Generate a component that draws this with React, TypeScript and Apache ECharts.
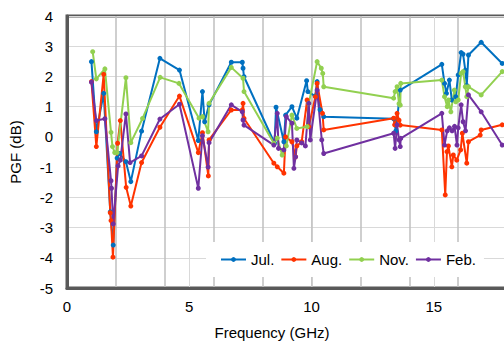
import React, { useEffect, useRef } from "react";
import * as echarts from "echarts";

// Measured PGF (dB) versus frequency (GHz), one campaign per month
const julFreq = [1.0, 1.2, 1.5, 1.77, 1.89, 2.05, 2.15, 2.41, 2.61, 3.05, 3.8, 4.6, 5.37, 5.54, 5.63, 5.81, 6.72, 7.17, 7.2, 7.24, 8.49, 8.55, 8.87, 8.94, 9.2, 9.4, 9.8, 9.85, 10.15, 10.23, 10.35, 10.5, 13.36, 13.45, 13.63, 15.33, 15.44, 15.52, 15.64, 15.74, 15.9, 16.0, 16.12, 16.2, 16.29, 16.35, 16.42, 16.94, 17.8];
const julPgf = [2.49, 0.17, 1.44, -2.48, -3.58, -0.7, -0.55, -0.82, -1.48, 0.19, 2.6, 2.21, -0.12, 1.5, 0.5, 1.06, 2.47, 2.47, 2.27, 1.99, -0.21, 0.98, -0.16, 0.72, 1.0, 0.62, 1.86, 1.5, 1.35, 1.83, 0.9, 0.67, 0.6, 0.2, 1.55, 2.4, 1.77, 1.44, 1.88, 1.22, 1.33, 2.05, 2.79, 2.74, 2.21, 1.7, 2.71, 3.13, 2.43];

const augFreq = [1.0, 1.2, 1.5, 1.77, 1.8, 1.88, 2.07, 2.18, 2.42, 2.61, 3.05, 3.8, 4.6, 5.37, 5.54, 5.78, 5.81, 6.72, 7.17, 7.2, 7.24, 8.46, 8.6, 8.87, 8.94, 9.2, 9.35, 9.4, 9.6, 9.82, 9.89, 10.16, 10.23, 10.45, 10.5, 13.36, 13.4, 13.5, 13.58, 13.63, 15.33, 15.47, 15.54, 15.6, 15.74, 15.8, 15.94, 16.1, 16.17, 16.35, 16.42, 16.9, 16.94, 17.8];
const augPgf = [1.83, -0.32, 2.07, -2.51, -2.77, -3.98, -0.21, 0.54, -1.67, -2.29, -0.85, 0.32, 1.35, -0.52, 0.14, -1.29, -0.1, 0.89, 0.89, 1.11, 0.61, -0.87, -0.99, -1.2, 0.0, -0.16, -0.66, -0.3, -0.16, 1.22, 0.34, 1.33, 1.77, 0.78, 0.23, 0.62, 0.4, 0.78, 0.55, 0.39, 0.23, -1.92, -0.49, -0.3, -0.99, -0.6, -0.77, -0.43, 0.12, -0.87, -0.16, 0.06, 0.23, 0.4];

const novFreq = [1.05, 1.2, 1.55, 1.8, 1.86, 1.95, 2.05, 2.41, 2.61, 3.09, 3.81, 4.58, 5.4, 5.54, 5.77, 5.81, 6.72, 7.2, 7.24, 8.46, 8.6, 8.8, 8.97, 9.2, 9.4, 9.82, 9.89, 10.23, 10.4, 10.46, 10.5, 13.36, 13.42, 13.5, 13.58, 13.63, 13.65, 15.33, 15.44, 15.55, 15.6, 15.7, 15.84, 15.9, 16.0, 16.12, 16.2, 16.29, 16.35, 16.42, 16.94, 17.8];
const novPgf = [2.82, 1.92, 2.25, 0.15, -0.32, -0.52, -0.52, 1.96, -0.19, 0.61, 1.97, 1.77, 0.62, 0.67, 0.17, 1.11, 2.3, 1.94, 1.5, -0.21, -0.04, -0.6, -0.3, 0.72, 0.28, 0.34, 1.11, 2.49, 2.27, 2.1, 1.66, 1.28, 1.5, 1.66, 1.1, 1.05, 1.77, 1.88, 1.33, 1.0, 1.22, 0.83, 1.55, 1.16, 1.22, 2.1, 2.16, 1.66, 1.33, 1.66, 1.39, 2.16];

const febFreq = [1.0, 1.2, 1.55, 1.8, 1.82, 1.89, 2.09, 2.18, 2.41, 2.58, 3.05, 3.8, 4.6, 5.37, 5.54, 5.77, 5.81, 6.72, 7.17, 7.2, 7.24, 8.46, 8.6, 8.65, 8.87, 8.97, 9.2, 9.28, 9.35, 9.4, 9.6, 9.75, 9.89, 9.95, 10.23, 10.42, 10.5, 13.36, 13.42, 13.5, 13.58, 13.63, 13.65, 15.33, 15.44, 15.55, 15.64, 15.75, 15.85, 15.95, 16.0, 16.12, 16.2, 16.3, 16.42, 16.94, 17.8];
const febPgf = [1.81, 0.54, 0.6, -1.45, -1.7, -2.88, -0.96, -0.77, 0.76, -0.85, -0.63, 0.59, 1.08, -1.7, 0.04, -1.0, -0.19, 1.06, 0.83, 0.56, 0.39, -0.27, 0.78, -0.38, -0.43, 0.67, 0.45, -1.04, -0.66, -0.1, -0.2, -0.3, 1.11, -0.1, 1.55, -0.1, -0.55, 0.12, -0.38, 0.4, -0.1, -0.32, -0.05, 0.78, -0.27, 0.2, 0.3, 0.2, 0.35, -0.27, 0.3, 1.06, 0.5, 0.2, 1.39, 0.83, -0.27];

const seriesNames = ["Jul.", "Aug.", "Nov.", "Feb."];
const seriesColors = ["#0070C0", "#FF3300", "#92D050", "#7030A0"];
const seriesFreq = [julFreq, augFreq, novFreq, febFreq];
const seriesPgf = [julPgf, augPgf, novPgf, febPgf];

const FONT = "'Liberation Sans', Arial, sans-serif";

export default function App() {
  const ref = useRef<HTMLDivElement>(null);

  useEffect(() => {
    if (!ref.current) return;
    const chart = echarts.init(ref.current, null, { renderer: "svg" });
    chart.setOption({
      animation: false,
      textStyle: { fontFamily: FONT },
      grid: {
        left: 66,
        top: 16,
        bottom: 53,
        right: 4,
        show: true,
        borderColor: "#595959",
        borderWidth: 3,
        containLabel: false,
      },
      legend: {
        data: seriesNames,
        left: 206,
        top: 242,
        orient: "horizontal",
        backgroundColor: "#ffffff",
        padding: [10, 8, 10, 14],
        itemWidth: 25,
        itemHeight: 6,
        itemGap: 6,
        textStyle: { fontFamily: FONT, fontSize: 15, color: "#000" },
      },
      xAxis: [
        {
          type: "value",
          min: 0,
          max: 20,
          interval: 5,
          axisLine: { show: true, onZero: false, lineStyle: { color: "#595959", width: 3 } },
          axisTick: { show: false },
          axisLabel: {
            fontSize: 15,
            color: "#000",
            margin: 11,
            fontFamily: FONT,
            showMaxLabel: false,
          },
          splitLine: { show: true, lineStyle: { color: "#D9D9D9", width: 1 } },
        },
        {
          type: "value",
          min: 0,
          max: 20,
          interval: 2,
          position: "bottom",
          axisLine: { show: false, onZero: false },
          axisTick: { show: false },
          axisLabel: { show: false },
          splitLine: { show: true, lineStyle: { color: "#BFBFBF", width: 1.5 } },
        },
      ],
      yAxis: {
        type: "value",
        min: -5,
        max: 4,
        interval: 1,
        name: "PGF (dB)",
        nameLocation: "middle",
        nameGap: 44,
        nameRotate: 90,
        nameTextStyle: { fontSize: 15, color: "#000", fontFamily: FONT },
        axisLine: { show: true, onZero: false, lineStyle: { color: "#595959", width: 3 } },
        axisTick: { show: false },
        axisLabel: { fontSize: 15, color: "#000", margin: 14, fontFamily: FONT },
        splitLine: { show: true, lineStyle: { color: "#D9D9D9", width: 1 } },
      },
      graphic: [
        {
          type: "text",
          x: 272,
          y: 332,
          style: {
            text: "Frequency (GHz)",
            fontSize: 15,
            fontFamily: FONT,
            fill: "#000",
            textAlign: "center",
            textVerticalAlign: "middle",
          },
        },
      ],
      series: seriesNames.map((name, i) => ({
        name,
        type: "line",
        xAxisIndex: 0,
        data: seriesFreq[i].map((f, j) => [f, seriesPgf[i][j]]),
        symbol: "circle",
        symbolSize: 5,
        color: seriesColors[i],
        lineStyle: { width: 2, color: seriesColors[i] },
        itemStyle: { color: seriesColors[i] },
      })),
    });
    return () => chart.dispose();
  }, []);

  // The plot runs on past the right edge of the visible frame
  return (
    <div
      style={{
        position: "absolute",
        left: 0,
        top: 0,
        width: 504,
        height: 341,
        overflow: "hidden",
      }}
    >
      <div ref={ref} style={{ width: 560, height: 341 }} />
    </div>
  );
}
